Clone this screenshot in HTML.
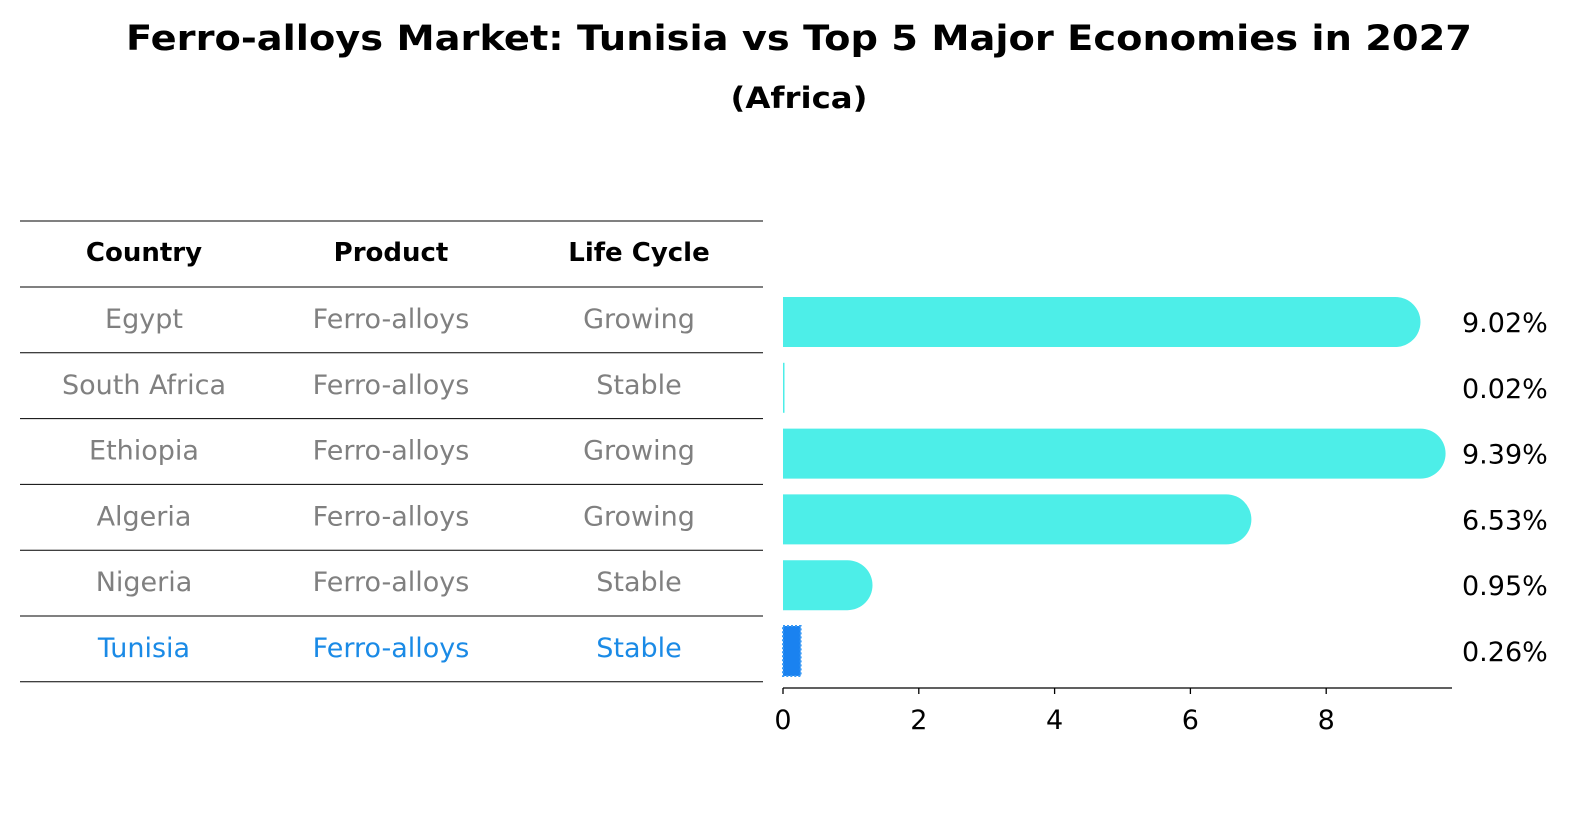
<!DOCTYPE html>
<html><head><meta charset="utf-8"><style>
html,body{margin:0;padding:0;background:#fff;width:1586px;height:823px;overflow:hidden;font-family:"DejaVu Sans","Liberation Sans",sans-serif}
svg{display:block}
</style></head><body>
<svg width="1586" height="823" viewBox="0 0 1586 823" preserveAspectRatio="none" xmlns="http://www.w3.org/2000/svg" font-family="DejaVu Sans, Liberation Sans, sans-serif">
<text x="799" y="50" text-anchor="middle" font-size="35" font-weight="bold" textLength="1346" lengthAdjust="spacingAndGlyphs">Ferro-alloys Market: Tunisia vs Top 5 Major Economies in 2027</text>
<text x="799" y="108" text-anchor="middle" font-size="29" font-weight="bold" textLength="137" lengthAdjust="spacingAndGlyphs">(Africa)</text>
<g id="table"></g>
<g id="bars"></g>
</svg>
<script>
const countries=["Egypt","South Africa","Ethiopia","Algeria","Nigeria","Tunisia"];
const products=["Ferro-alloys","Ferro-alloys","Ferro-alloys","Ferro-alloys","Ferro-alloys","Ferro-alloys"];
const lifeCycles=["Growing","Stable","Growing","Growing","Stable","Stable"];
const values=[9.02,0.02,9.39,6.53,0.95,0.26];
const valueLabels=["9.02%","0.02%","9.39%","6.53%","0.95%","0.26%"];
const xTicks=[0,2,4,6,8];
const highlight="Tunisia";
const NS="http://www.w3.org/2000/svg";
function mk(tag,attrs,parent){const e=document.createElementNS(NS,tag);for(const k in attrs)e.setAttribute(k,attrs[k]);parent.appendChild(e);return e;}
const rowY=i=>320+i*65.8;
const xs=v=>783+v*67.9;
const table=document.getElementById('table');
const cols=[144,391,639];
const lineYs=[221,287];
for(let i=0;i<countries.length;i++)lineYs.push(287+(i+1)*65.8);
lineYs.forEach(y=>{const l=mk('line',{x1:20,x2:763,y1:y,y2:y,stroke:'#000','stroke-width':1},table);

});
["Country","Product","Life Cycle"].forEach((h,j)=>{const t=mk('text',{x:cols[j],y:261,'text-anchor':'middle','font-size':26,'font-weight':'bold'},table);t.textContent=h;

});
countries.forEach((c,i)=>{const col=c===highlight?'#1a8ae6':'#808080';
[c,products[i],lifeCycles[i]].forEach((v,j)=>{const t=mk('text',{x:cols[j],y:rowY(i)+8,'text-anchor':'middle','font-size':27,fill:col},table);t.textContent=v;

});});
const bars=document.getElementById('bars');
const h=50,r=25;
values.forEach((v,i)=>{const cy=rowY(i)+2,y0=cy-h/2,x0=xs(0),x1=xs(v);let el;
if(countries[i]===highlight){el=mk('rect',{x:x0,y:y0,width:Math.max(1,x1-x0),height:h,fill:'#1a82f0',stroke:'#3a9af5','stroke-width':2,'stroke-dasharray':'2,2'},bars);}
else if(x1-x0<r){el=mk('rect',{x:x0,y:y0,width:Math.max(1.5,x1-x0),height:h,fill:'#4deee8'},bars);}
else{el=mk('path',{d:`M${x0},${y0}H${x1}A${r},${r} 0 0 1 ${x1},${y0+h}H${x0}Z`,fill:'#4deee8'},bars);}


const t=mk('text',{x:1462,y:cy+10,'font-size':27},bars);t.textContent=valueLabels[i];

});
const ax=mk('line',{x1:783,x2:1452,y1:688,y2:688,stroke:'#000','stroke-width':1.3},bars);


xTicks.forEach(v=>{const tk=mk('line',{x1:xs(v),x2:xs(v),y1:688,y2:694,stroke:'#000','stroke-width':1.3},bars);


const t=mk('text',{x:xs(v),y:729,'text-anchor':'middle','font-size':27},bars);t.textContent=v;

});
</script>
</body></html>
